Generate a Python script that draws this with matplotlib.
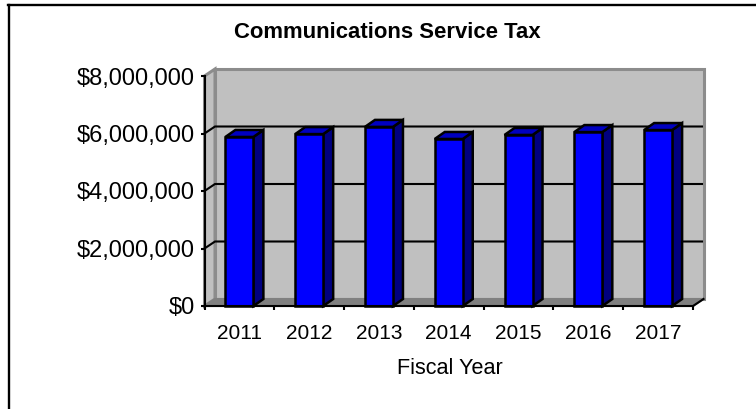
import matplotlib
matplotlib.use("Agg")
import matplotlib.pyplot as plt
from matplotlib.patches import Polygon
from matplotlib.lines import Line2D

years = ["2011", "2012", "2013", "2014", "2015", "2016", "2017"]
tax = [5880000, 5980000, 6230000, 5810000, 5950000, 6050000, 6120000]
y_ticks = [0, 2000000, 4000000, 6000000, 8000000]
y_labels = ["$0", "$2,000,000", "$4,000,000", "$6,000,000", "$8,000,000"]

plt.rcParams["font.family"] = ["Liberation Sans", "DejaVu Sans"]

W, H = 756, 409
fig = plt.figure(figsize=(W / 100, H / 100), dpi=100)
ax = fig.add_axes([204.5 / W, 1 - 306 / H, (693 - 204.5) / W, (306 - 76) / H])
ax.set_xlim(0, 7)
ax.set_ylim(0, 8000000)
ax.patch.set_visible(False)

# depth of the fake 3d box, in data units
px_x = 7 / (693 - 204.5)
px_y = 8000000 / (306 - 76)
wall_dx = 10.5 * px_x
wall_dy = 7 * px_y
bar_dx = 10 * px_x
bar_dy = 7 * px_y
bar_w = 28 * px_x
lw = 1.5


def poly(pts, fc, ec="none", z=1, w=lw):
    ax.add_patch(Polygon(pts, closed=True, facecolor=fc, edgecolor=ec, linewidth=w,
                         zorder=z, clip_on=False, joinstyle="miter"))


# back wall, side wall, floor
poly([(wall_dx, wall_dy), (7 + wall_dx, wall_dy), (7 + wall_dx, 8000000 + wall_dy), (wall_dx, 8000000 + wall_dy)],
     "#c0c0c0", "#8c8c8c", w=2.2)
poly([(0, 0), (wall_dx, wall_dy), (wall_dx, 8000000 + wall_dy), (0, 8000000)], "#c0c0c0", "#8c8c8c", w=2.2)
poly([(0, 0), (7, 0), (7 + wall_dx, wall_dy), (wall_dx, wall_dy)], "#808080", "#808080")

# gridlines
for v in y_ticks[1:-1]:
    ax.plot([0, wall_dx, 7 + wall_dx - px_x * 1.5], [v, v + wall_dy, v + wall_dy], color="black", lw=lw,
            zorder=2, clip_on=False, solid_joinstyle="miter")
ax.plot([7, 7 + wall_dx], [0, wall_dy], color="black", lw=lw, zorder=2, clip_on=False)

# bars
for i, v in enumerate(tax):
    x0 = i + 0.5 - bar_w / 2
    x1 = i + 0.5 + bar_w / 2
    poly([(x1, 0), (x1 + bar_dx, bar_dy), (x1 + bar_dx, v + bar_dy), (x1, v)], "#000080", "black", 3, 1.8)
    poly([(x0, v), (x1, v), (x1 + bar_dx, v + bar_dy), (x0 + bar_dx, v + bar_dy)], "#0000c0", "black", 3, 1.8)
    poly([(x0, 0), (x1, 0), (x1, v), (x0, v)], "#0000ff", "black", 4, 1.8)

for side in ["top", "right"]:
    ax.spines[side].set_visible(False)
for side in ["left", "bottom"]:
    ax.spines[side].set_linewidth(lw)
    ax.spines[side].set_zorder(5)

ax.set_yticks(y_ticks)
ax.set_yticklabels(y_labels, fontsize=17)
ax.set_xticks(range(8))
ax.set_xticklabels([])
ax.set_xticks([i + 0.5 for i in range(7)], minor=True)
ax.set_xticklabels(years, minor=True, fontsize=15)
ax.tick_params(axis="y", which="major", length=3, width=lw, pad=4)
ax.tick_params(axis="x", which="major", length=3, width=lw)
ax.tick_params(axis="x", which="minor", length=0, pad=13)

fig.text(387 / W, 1 - 32 / H, "Communications Service Tax", fontsize=15.9, fontweight="bold",
         ha="center", va="center")
fig.text(449.5 / W, 1 - 369 / H, "Fiscal Year", fontsize=15.6, ha="center", va="center")

# chart frame, only top and left are in the crop
fig.add_artist(Line2D([8.5 / W, 8.5 / W], [0, 1 - 5 / H], color="black", lw=1.7))
fig.add_artist(Line2D([8 / W, 1], [1 - 5 / H, 1 - 5 / H], color="black", lw=1.7))

fig.savefig("out.png", dpi=100)
